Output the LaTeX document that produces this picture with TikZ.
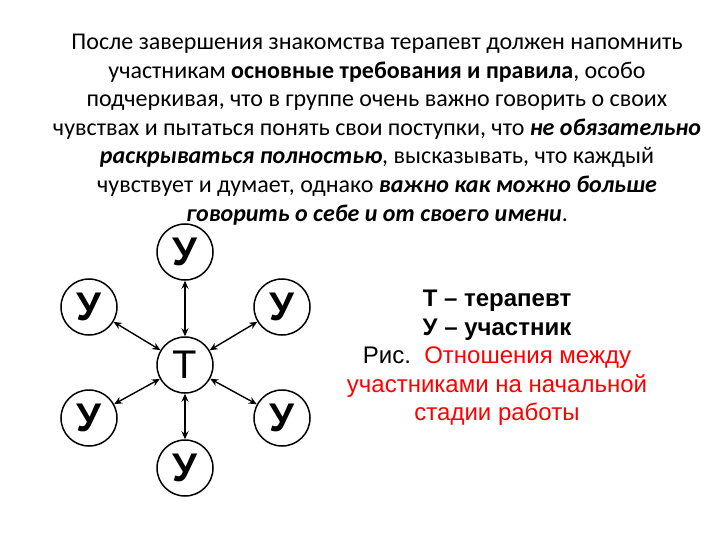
\documentclass[tikz,border=0pt]{standalone}
\usepackage{fontspec}
\setmainfont{Carlito}
\newfontfamily\arialfont{Liberation Sans}
\usetikzlibrary{arrows.meta}
\tikzset{
  member/.style={draw, circle, line width=1.5pt, minimum size=56pt, inner sep=0pt,
                 font=\arialfont\bfseries\fontsize{40}{40}\selectfont},
  link/.style={{Stealth[length=8pt,width=7pt]}-{Stealth[length=8pt,width=7pt]}, line width=1.4pt},
}
\begin{document}
\begin{tikzpicture}[x=1pt,y=-1pt]
    \useasboundingbox (0,0) rectangle (720,540);
    \node[anchor=north, align=center, inner sep=0pt,
          font=\fontsize{24}{28.6}\selectfont] (intro) at (377,34)
          {После завершения знакомства терапевт должен напомнить\\
           участникам \textbf{основные требования и правила}, особо\\
           подчеркивая, что в группе очень важно говорить о своих\\
           чувствах и пытаться понять свои поступки, что \textbf{\textit{не обязательно}}\\
           \textbf{\textit{раскрываться полностью}}, высказывать, что каждый\\
           чувствует и думает, однако \textbf{\textit{важно как можно больше}}\\
           \textbf{\textit{говорить о себе и от своего имени}}.};
    \node[member, font=\arialfont\fontsize{40}{40}\selectfont] (ther) at (185,365) {Т};
    \node[member] (utop) at (185,252) {У};
    \node[member] (uleftup) at (89,307) {У};
    \node[member] (urightup) at (282,307) {У};
    \node[member] (uleftdown) at (89,418) {У};
    \node[member] (urightdown) at (282,418) {У};
    \node[member] (ubottom) at (185,468) {У};
    \foreach \u in {utop,uleftup,urightup,uleftdown,urightdown,ubottom}
      \draw[link] (\u) -- (ther);
    \node[anchor=north, align=center, inner sep=0pt,
          font=\arialfont\fontsize{24}{28.5}\selectfont] (legend) at (497,290)
          {\textbf{Т – терапевт}\\
           \textbf{У – участник}\\
           Рис.\ \ \textcolor{red}{Отношения между}\\
           \textcolor{red}{участниками на начальной}\\
           \textcolor{red}{стадии работы}};
\end{tikzpicture}
\end{document}
